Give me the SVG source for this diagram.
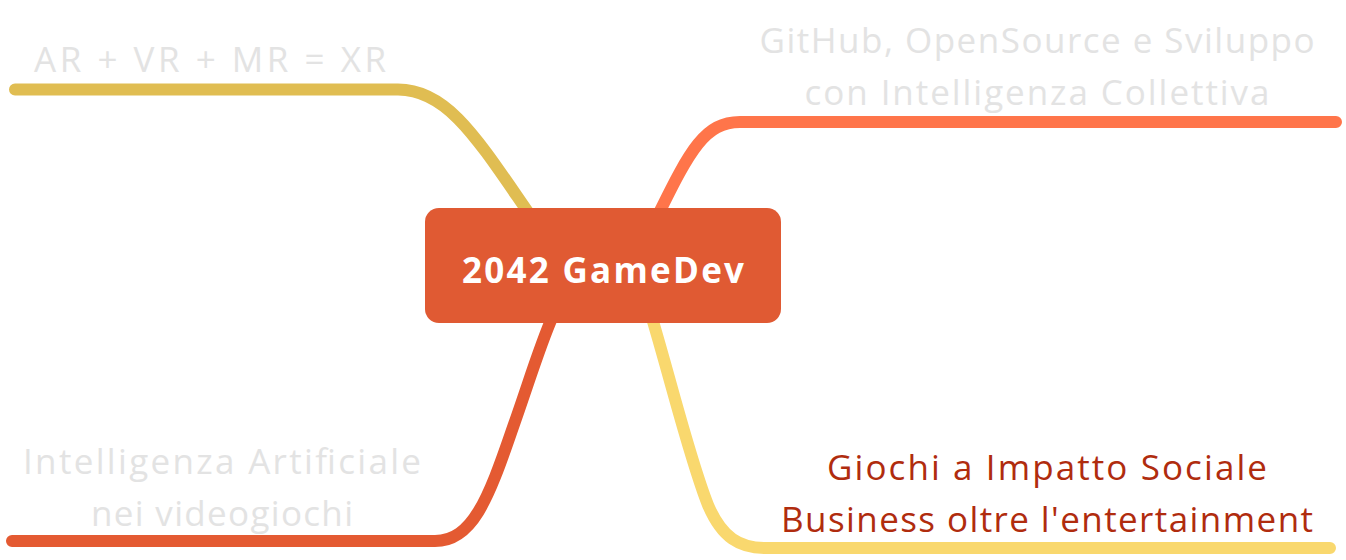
<svg xmlns="http://www.w3.org/2000/svg" width="1346" height="560" viewBox="0 0 1346 560">
<style>
.br{fill:none;stroke-width:12;stroke-linecap:round;stroke-linejoin:round}
.t{font-family:"Comic Sans MS","Open Sans","DejaVu Sans",sans-serif;font-size:35px;text-anchor:middle}
.lt{fill:#E3E3E3}
.dk{fill:#B02C0E}
.c{font-family:"Comic Sans MS","Open Sans","DejaVu Sans",sans-serif;font-size:35px;font-weight:bold;fill:#FFFFFF;text-anchor:middle}
</style>
<rect width="1346" height="560" fill="#FFFFFF"/>
<g id="connectors">
<path class="br" stroke="#E0BD52" d="M15,89.5 H398 C448,89.5 478,140 530,215"/>
<path class="br" stroke="#FF754A" d="M658,215 C690,150 705,122 740,122 H1336"/>
<path class="br" stroke="#E45A32" d="M12,541 H435 C472,541 488,500 512,430 C528,385 540,345 552,318"/>
<path class="br" stroke="#F9D86E" d="M652,318 C672,385 690,460 708,505 C722,538 740,548 765,548 H1330"/>
</g>
<g id="center">
<rect x="425" y="208" width="356" height="115" rx="14" fill="#E05A33"/>
<text class="c" x="603" y="283" textLength="282">2042 GameDev</text>
</g>
<g id="node-xr">
<text class="t lt" x="210" y="72" textLength="352">AR + VR + MR = XR</text>
</g>
<g id="node-github">
<text class="t lt" x="1037" y="53" textLength="555">GitHub, OpenSource e Sviluppo</text>
<text class="t lt" x="1037" y="105" textLength="465">con Intelligenza Collettiva</text>
</g>
<g id="node-ai">
<text class="t lt" x="222" y="474" textLength="398">Intelligenza Artificiale</text>
<text class="t lt" x="222" y="526" textLength="262">nei videogiochi</text>
</g>
<g id="node-social">
<text class="t dk" x="1047" y="480" textLength="440">Giochi a Impatto Sociale</text>
<text class="t dk" x="1047" y="532" textLength="532">Business oltre l'entertainment</text>
</g>
</svg>
